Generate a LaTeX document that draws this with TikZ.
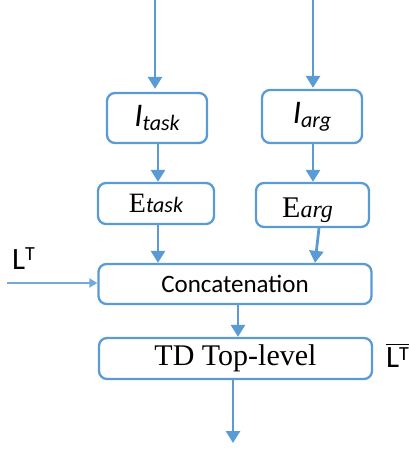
\documentclass[tikz,border=0pt]{standalone}
\usepackage{fontspec}
\setmainfont{Liberation Serif}
\newfontfamily\calibri{Carlito}
\usetikzlibrary{arrows.meta,calc}
\definecolor{boxblue}{RGB}{91,155,213}
\tikzset{
  blk/.style={draw=boxblue, line width=2.3pt, rounded corners=8pt, fill=white, inner sep=0pt},
  flow/.style={draw=boxblue, line width=2.8pt, -{Triangle[width=14pt,length=12pt]}},
  thinflow/.style={draw=boxblue!85, line width=2pt, -{Triangle[width=9pt,length=8pt]}},
  lbl/.style={inner sep=0pt, anchor=base west},
}
\newcommand{\sz}[1]{\fontsize{#1}{#1}\selectfont}
\begin{document}
\begin{tikzpicture}[x=1pt,y=-1pt]
\useasboundingbox (0,0) rectangle (409,449);

% processing blocks
\node[blk, minimum width=100pt, minimum height=50pt] (itask) at (157,118)
  {\calibri\itshape\sz{33}I\raisebox{-4pt}{\sz{22}task}};
\node[blk, minimum width=100pt, minimum height=53pt] (iarg) at (312,116.5)
  {\calibri\itshape\sz{33}I\raisebox{-4pt}{\sz{22}arg}};
\node[blk, minimum width=116pt, minimum height=41pt] (etask) at (156,203.5)
  {\sz{28}E{\calibri\itshape\sz{22}task}};
\node[blk, minimum width=113pt, minimum height=44pt] (earg) at (312.5,205) {};
\node[inner sep=1pt, fill=white, anchor=base west] (eargtxt) at (281,217)
  {\sz{30}E{\itshape\sz{24}arg}};
\node[blk, minimum width=273pt, minimum height=40pt] (concat) at (235,284)
  {\calibri\sz{25}Concatenation};
\node[blk, minimum width=273pt, minimum height=41pt] (td) at (235.5,358.5)
  {\sz{30}TD Top-level};

% side labels
\node[lbl] (lt) at (12,269) {\calibri\sz{31}L\raisebox{9pt}{\sz{20}T}};
\node[lbl] (rlt) at (386,367) {\calibri\sz{31}L\raisebox{7pt}{\sz{20}T}};
\draw[line width=1.4pt] ([yshift=2.5pt]rlt.north west) -- ([yshift=2.5pt]rlt.north east);

% free ends of the flow
\coordinate (in1) at (155,0);
\coordinate (in2) at (313,0);
\coordinate (ltin) at (7,283);
\coordinate (out) at (233,443);
\coordinate (a1) at (158,0);
\coordinate (a2) at (313,0);
\coordinate (ea) at (319,0);
\coordinate (cb) at (315,0);
\coordinate (ct) at (238,0);

% connectors
\draw[flow, shorten >=3pt] (in1) -- (in1 |- itask.north);
\draw[flow, shorten >=1pt] (in2) -- (in2 |- iarg.north);
\draw[flow] (a1 |- itask.south) -- (a1 |- etask.north);
\draw[flow] (a2 |- iarg.south) -- (a2 |- earg.north);
\draw[flow] (a1 |- etask.south) -- (a1 |- concat.north);
\draw[flow] (ea |- earg.south) -- (cb |- concat.north);
\draw[thinflow] (ltin) -- (ltin -| concat.west);
\draw[flow] (ct |- concat.south) -- (ct |- td.north);
\draw[flow] (out |- td.south) -- (out);
\end{tikzpicture}
\end{document}
